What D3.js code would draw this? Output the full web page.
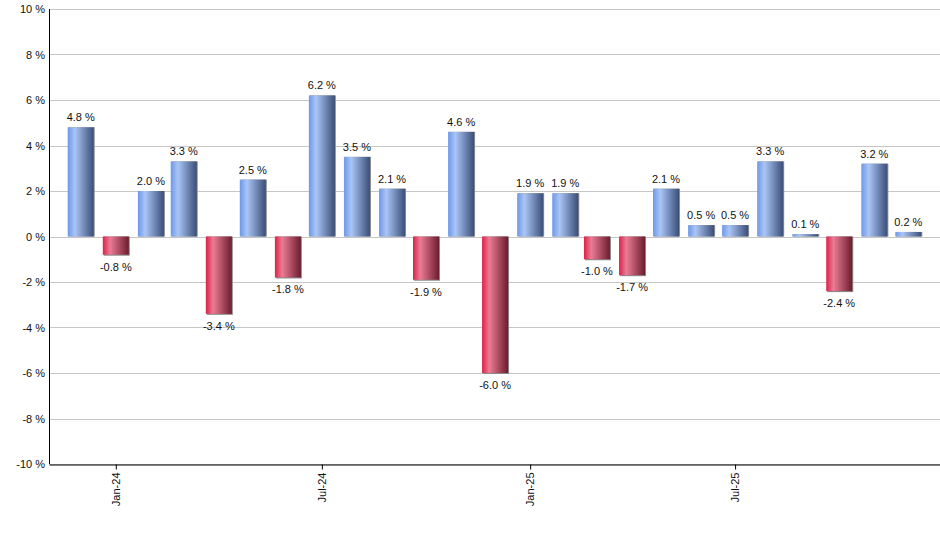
<!DOCTYPE html>
<html lang="en">
<head>
<meta charset="utf-8">
<title>Monthly returns</title>
<script src="https://cdn.jsdelivr.net/npm/d3@7"></script>
<style>
  body { margin: 0; background: #fff; }
  text { font-family: "Liberation Sans", Arial, sans-serif; fill: #111; }
</style>
</head>
<body>
<script>
// months shown, first of each month
var months = ["2023-12", "2024-01", "2024-02", "2024-03", "2024-04", "2024-05", "2024-06",
  "2024-07", "2024-08", "2024-09", "2024-10", "2024-11", "2024-12",
  "2025-01", "2025-02", "2025-03", "2025-04", "2025-05", "2025-06",
  "2025-07", "2025-08", "2025-09", "2025-10", "2025-11", "2025-12"];
var returns = [4.8, -0.8, 2.0, 3.3, -3.4, 2.5, -1.8, 6.2, 3.5, 2.1, -1.9, 4.6, -6.0,
  1.9, 1.9, -1.0, -1.7, 2.1, 0.5, 0.5, 3.3, 0.1, -2.4, 3.2, 0.2];
var yTicks = [-10, -8, -6, -4, -2, 0, 2, 4, 6, 8, 10];

var parse = d3.timeParse("%Y-%m");
var data = months.map(function(m, i) {
  return { date: parse(m), value: returns[i] };
});

// plot box (note: "top" is taken by window.top)
var w = 940, h = 550;
var pLeft = 49, pRight = 940, pTop = 9, pBottom = 464;

var svg = d3.select("body").append("svg")
  .attr("width", w)
  .attr("height", h);

// gradients
var defs = svg.append("defs");
function grad(id, c0, c1, c2) {
  var g = defs.append("linearGradient").attr("id", id)
    .attr("x1", "0%").attr("x2", "100%").attr("y1", "0%").attr("y2", "0%");
  g.append("stop").attr("offset", "0%").attr("stop-color", c0);
  g.append("stop").attr("offset", "28%").attr("stop-color", c1);
  g.append("stop").attr("offset", "100%").attr("stop-color", c2);
}
grad("gPos", "#6d98e8", "#aac5f6", "#3a4e78");
grad("gNeg", "#dc2148", "#ea7c95", "#6c1c2e");

var first = data[0].date, last = data[data.length - 1].date;
var x = d3.scaleTime()
  .domain([d3.timeDay.offset(first, -28), d3.timeDay.offset(last, 28)])
  .range([pLeft, pRight]);

var y = d3.scaleLinear()
  .domain([-10, 10])
  .range([pBottom, pTop]);

// gridlines
svg.append("g")
  .selectAll("line")
  .data(yTicks)
  .enter()
  .append("line")
  .attr("x1", pLeft)
  .attr("x2", pRight)
  .attr("y1", function(d) { return Math.round(y(d)) + 0.5; })
  .attr("y2", function(d) { return Math.round(y(d)) + 0.5; })
  .attr("stroke", "#c6c6c6")
  .attr("stroke-width", 1);

// y labels
svg.append("g")
  .selectAll("text")
  .data(yTicks)
  .enter()
  .append("text")
  .attr("x", pLeft - 4)
  .attr("y", function(d) { return y(d) + 4; })
  .attr("text-anchor", "end")
  .attr("font-size", "11px")
  .text(function(d) { return d + " %"; });

var bw = 26;

// bars: gray edge then gradient body
var bars = svg.append("g");
bars.selectAll("rect.edge")
  .data(data)
  .enter()
  .append("rect")
  .attr("class", "edge")
  .attr("x", function(d) { return x(d.date) - bw / 2 + 1; })
  .attr("y", function(d) { return y(Math.max(0, d.value)); })
  .attr("width", bw)
  .attr("height", function(d) { return Math.abs(y(d.value) - y(0)) + (d.value < 0 ? 1 : 0); })
  .attr("fill", "#8a8a8a");

bars.selectAll("rect.bar")
  .data(data)
  .enter()
  .append("rect")
  .attr("class", "bar")
  .attr("x", function(d) { return x(d.date) - bw / 2; })
  .attr("y", function(d) { return y(Math.max(0, d.value)); })
  .attr("width", bw)
  .attr("height", function(d) { return Math.abs(y(d.value) - y(0)); })
  .attr("fill", function(d) { return d.value >= 0 ? "url(#gPos)" : "url(#gNeg)"; });

// value labels
svg.append("g")
  .selectAll("text")
  .data(data)
  .enter()
  .append("text")
  .attr("x", function(d) { return x(d.date); })
  .attr("y", function(d) {
    return d.value >= 0 ? y(d.value) - 6 : y(d.value) + 16;
  })
  .attr("text-anchor", "middle")
  .attr("font-size", "11px")
  .text(function(d) { return d.value.toFixed(1) + " %"; });

// y axis line
svg.append("line")
  .attr("x1", pLeft + 0.5).attr("x2", pLeft + 0.5)
  .attr("y1", pTop).attr("y2", pBottom)
  .attr("stroke", "#000");

var xAxis = d3.axisBottom(x)
  .ticks(d3.timeMonth.every(6))
  .tickFormat(d3.timeFormat("%b-%y"))
  .tickSize(5)
  .tickSizeOuter(0);

var gx = svg.append("g")
  .attr("transform", "translate(0," + (pBottom + 0.5) + ")")
  .call(xAxis);
gx.select(".domain").attr("stroke", "#000");
gx.selectAll(".tick line").attr("stroke", "#000");
gx.selectAll(".tick text")
  .attr("font-family", "Liberation Sans, Arial, sans-serif")
  .attr("font-size", "11px")
  .attr("fill", "#111")
  .attr("transform", "rotate(-90)")
  .attr("x", -8)
  .attr("y", 0)
  .attr("dy", "0.32em")
  .attr("text-anchor", "end");
</script>
</body>
</html>
